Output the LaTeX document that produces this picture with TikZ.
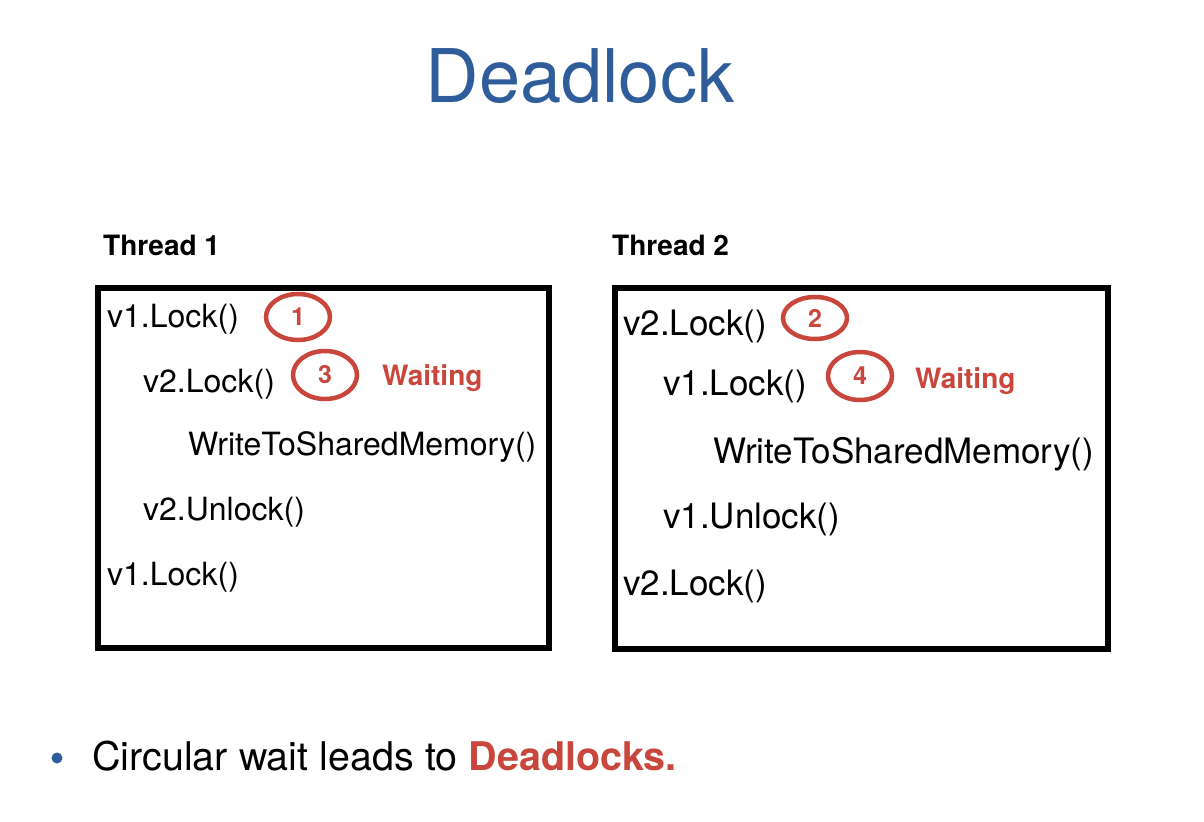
\documentclass[tikz,border=0pt]{standalone}
\usepackage{fontspec}
\setmainfont{TeX Gyre Heros}
\usetikzlibrary{positioning,shapes.geometric}
\definecolor{titleblue}{HTML}{2F5D9B}
\definecolor{waitred}{HTML}{C8463C}

\begin{document}
\begin{tikzpicture}[x=1bp,y=-1bp,
	codeone/.style={anchor=base west,inner sep=0pt,font=\fontsize{32bp}{36bp}\selectfont},
	codetwo/.style={anchor=base west,inner sep=0pt,font=\fontsize{35bp}{40bp}\selectfont},
	thread/.style={anchor=base west,inner sep=0pt,font=\bfseries\fontsize{28bp}{32bp}\selectfont},
	waitlabel/.style={anchor=base west,inner sep=0pt,text=waitred,font=\bfseries\fontsize{28bp}{32bp}\selectfont},
	ordmark/.style={ellipse,draw=waitred,line width=4.5bp,inner sep=0pt,minimum width=64bp,minimum height=46bp,text=waitred,font=\bfseries\fontsize{25bp}{28bp}\selectfont},
	codebox/.style={draw=black,line width=6bp,inner sep=0pt}
	]

	\useasboundingbox (0,0) rectangle (1204,822);

	\node[anchor=base,inner sep=0pt,text=titleblue,font=\fontsize{74bp}{80bp}\selectfont] (title) at (580,103) {Deadlock};

	% thread 1
	\node[thread] (t1) at (103,255) {Thread 1};
	\node[codebox,minimum width=451bp,minimum height=360bp] (box1) at (323.5,468) {};

	\node[codeone] (a1) at (107,327) {v1.Lock()};
	\node[codeone] (a2) at (143,392) {v2.Lock()};
	\node[codeone] (a3) at (188,455) {WriteToSharedMemory()};
	\node[codeone] (a4) at (143,520) {v2.Unlock()};
	\node[codeone] (a5) at (107,585) {v1.Lock()};

	\node[ordmark] (m1) at (298,317) {1};
	\node[ordmark,minimum height=48bp] (m3) at (325,375) {3};
	\node[waitlabel] (w1) at (382,385) {Waiting};

	% thread 2
	\node[thread] (t2) at (612,255) {Thread 2};
	\node[codebox,minimum width=493bp,minimum height=361bp] (box2) at (861.5,468.5) {};

	\node[codetwo] (b1) at (623,335) {v2.Lock()};
	\node[codetwo] (b2) at (663,395) {v1.Lock()};
	\node[codetwo] (b3) at (713,463) {WriteToSharedMemory()};
	\node[codetwo] (b4) at (663,528) {v1.Unlock()};
	\node[codetwo] (b5) at (623,595) {v2.Lock()};

	\node[ordmark,minimum height=42bp] (m2) at (815,318) {2};
	\node[ordmark,minimum height=48bp] (m4) at (860,376) {4};
	\node[waitlabel] (w2) at (915,388) {Waiting};

	% note
	\node[circle,fill=titleblue,inner sep=0pt,minimum size=11bp] (dot) at (57,758) {};
	\node[anchor=base west,inner sep=0pt,font=\fontsize{39.5bp}{44bp}\selectfont] (note) at (92,770) {Circular wait leads to \textcolor{waitred}{\bfseries Deadlocks.}};

\end{tikzpicture}
\end{document}
